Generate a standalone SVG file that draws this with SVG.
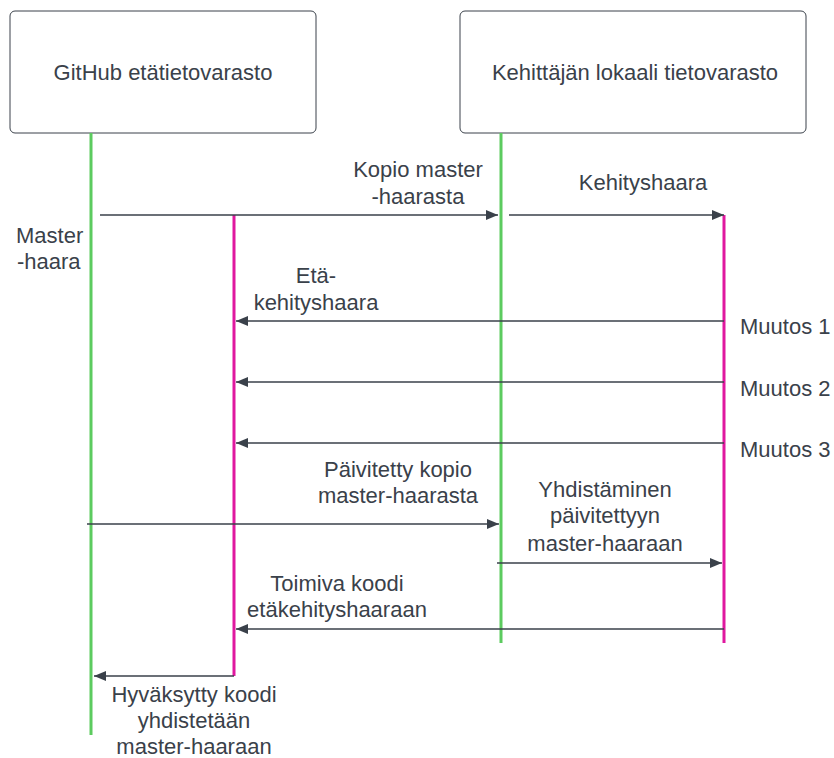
<svg xmlns="http://www.w3.org/2000/svg" width="834" height="758" viewBox="0 0 834 758">
<defs>
<marker id="ah" viewBox="0 0 12 10" refX="12" refY="5" markerWidth="12" markerHeight="10" markerUnits="userSpaceOnUse" orient="auto">
<path d="M0,0 L12,5 L0,10 Z" fill="#3a414a"/>
</marker>
<style>
.box{fill:#fff;stroke:#3a414a;stroke-width:1}
.t{font-family:"Liberation Sans",Arial,sans-serif;font-size:22px;fill:#3a414a;text-anchor:middle}
.ts{font-family:"Liberation Sans",Arial,sans-serif;font-size:22px;fill:#3a414a;text-anchor:start}
.g{stroke:#5ccb5f;stroke-width:3;fill:none}
.m{stroke:#e0189f;stroke-width:3;fill:none}
.a{stroke:#3a414a;stroke-width:1.5;fill:none;marker-end:url(#ah)}
</style>
</defs>
<rect width="834" height="758" fill="#fff"/>
<g id="github">
<rect class="box" x="10" y="11" width="306" height="122" rx="5"/>
<text class="t" x="163" y="80">GitHub etätietovarasto</text>
</g>
<g id="lokaali">
<rect class="box" x="460" y="11" width="346" height="122" rx="5"/>
<text class="t" x="635" y="80">Kehittäjän lokaali tietovarasto</text>
</g>
<g id="lifelines">
<line class="g" x1="91" y1="133" x2="91" y2="735"/>
<line class="g" x1="501" y1="133" x2="501" y2="643"/>
<line class="m" x1="234" y1="215" x2="234" y2="676"/>
<line class="m" x1="724" y1="215" x2="724" y2="643"/>
</g>
<g id="connectors">
<line class="a" x1="100" y1="215" x2="498" y2="215"/>
<line class="a" x1="509" y1="215" x2="724" y2="215"/>
<line class="a" x1="724" y1="321" x2="236" y2="321"/>
<line class="a" x1="724" y1="382" x2="236" y2="382"/>
<line class="a" x1="724" y1="443" x2="236" y2="443"/>
<line class="a" x1="87" y1="524" x2="499" y2="524"/>
<line class="a" x1="497" y1="563" x2="722" y2="563"/>
<line class="a" x1="724" y1="629" x2="236" y2="629"/>
<line class="a" x1="234" y1="676" x2="94" y2="676"/>
</g>
<g id="labels">
<text class="t" x="418" y="177">Kopio master</text>
<text class="t" x="418" y="204">-haarasta</text>
<text class="t" x="643" y="190">Kehityshaara</text>
<text class="ts" x="16" y="243">Master</text>
<text class="ts" x="17" y="269">-haara</text>
<text class="t" x="316" y="283">Etä-</text>
<text class="t" x="316" y="310">kehityshaara</text>
<text class="ts" x="740" y="334">Muutos 1</text>
<text class="ts" x="740" y="396">Muutos 2</text>
<text class="ts" x="740" y="457">Muutos 3</text>
<text class="t" x="398" y="477">Päivitetty kopio</text>
<text class="t" x="398" y="503">master-haarasta</text>
<text class="t" x="605" y="497">Yhdistäminen</text>
<text class="t" x="605" y="523">päivitettyyn</text>
<text class="t" x="605" y="551">master-haaraan</text>
<text class="t" x="337" y="591">Toimiva koodi</text>
<text class="t" x="337" y="617">etäkehityshaaraan</text>
<text class="t" x="194" y="702">Hyväksytty koodi</text>
<text class="t" x="194" y="728">yhdistetään</text>
<text class="t" x="194" y="754">master-haaraan</text>
</g>
</svg>
